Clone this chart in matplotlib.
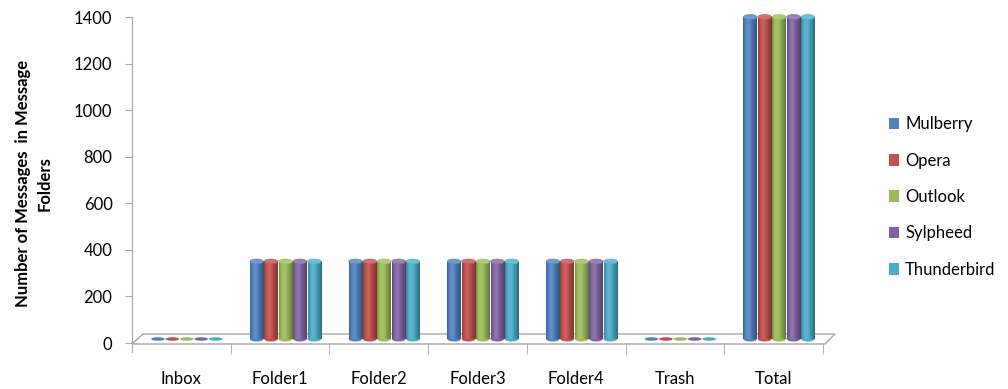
import numpy as np
import matplotlib
matplotlib.use("Agg")
import matplotlib.pyplot as plt
from matplotlib.patches import Ellipse, Polygon, Patch
from matplotlib.colors import to_rgb

plt.rcParams['font.family'] = ['Lato', 'DejaVu Sans']

categories = ["Inbox", "Folder1", "Folder2", "Folder3", "Folder4", "Trash", "Total"]
clients = ["Mulberry", "Opera", "Outlook", "Sylpheed", "Thunderbird"]
mulberry = [0, 350, 350, 350, 350, 0, 1400]
opera = [0, 350, 350, 350, 350, 0, 1400]
outlook = [0, 350, 350, 350, 350, 0, 1400]
sylpheed = [0, 350, 350, 350, 350, 0, 1400]
thunderbird = [0, 350, 350, 350, 350, 0, 1400]
series = [mulberry, opera, outlook, sylpheed, thunderbird]
colors = ["#4F81BD", "#C0504D", "#9BBB59", "#8064A2", "#4BACC6"]
y_ticks = [0, 200, 400, 600, 800, 1000, 1200, 1400]

W, H = 1008, 389
fig = plt.figure(figsize=(W / 100, H / 100), dpi=100)
ax_l, ax_r = 132, 823
ax_t, ax_b = 17, 343
ax = fig.add_axes([ax_l / W, (H - ax_b) / H, (ax_r - ax_l) / W, (ax_b - ax_t) / H])

xmin, xmax = -0.5, len(categories) - 0.5
ymin, ymax = 0, 1400
px_x = (xmax - xmin) / (ax_r - ax_l)   # data units per pixel, x
px_y = (ymax - ymin) / (ax_b - ax_t)   # data units per pixel, y


def shade(base, n=40):
    """Horizontal cylinder shading: darker edges, soft highlight left of centre."""
    c = np.array(to_rgb(base))
    t = np.linspace(0, 1, n)
    f = 0.82 + 0.32 * np.exp(-((t - 0.38) / 0.30) ** 2) - 0.08 * t
    edge = np.minimum(t, 1 - t)
    f = f - 0.16 * np.exp(-edge / 0.06)
    rgb = np.where(f[:, None] <= 1, c * f[:, None],
                   c + (1 - c) * (f[:, None] - 1))
    return np.clip(rgb, 0, 1)[None, :, :]


def lighten(base, k):
    c = np.array(to_rgb(base))
    return tuple(c + (1 - c) * k)


# 3D floor under the bars
dx, dy = 11 * px_x, 9 * px_y
floor = Polygon([(xmin, -1 * px_y), (xmin + dx, dy), (xmax + dx + 1 * px_x, dy),
                 (xmax + 2 * px_x, -1 * px_y)],
                closed=True, facecolor="white", edgecolor="#A6A6A6", lw=1.0,
                clip_on=False, zorder=1)
ax.add_patch(floor)

bar_w = 0.146
shift = 0.055
ell_h = 5 * px_y
base_y = 4 * px_y
n = len(series)
for i, (vals, col) in enumerate(zip(series, colors)):
    for j, v in enumerate(vals):
        xc = j + shift + (i - (n - 1) / 2) * bar_w
        x0, x1 = xc - bar_w / 2 + 0.4 * px_x, xc + bar_w / 2 - 0.4 * px_x
        w = x1 - x0
        if v > 0:
            ax.imshow(shade(col), extent=[x0, x1, base_y, v], aspect="auto",
                      interpolation="bilinear", zorder=3, clip_on=False)
            ax.add_patch(Ellipse((xc, base_y), w, ell_h, facecolor=col,
                                 edgecolor="none", zorder=2.9, clip_on=False))
            ax.add_patch(Ellipse((xc, v), w, ell_h, facecolor=lighten(col, 0.2),
                                 edgecolor=col, lw=0.4,
                                 zorder=4, clip_on=False))
        else:
            ax.add_patch(Ellipse((xc, base_y), w, 3.5 * px_y, facecolor=col,
                                 edgecolor="none", zorder=3, clip_on=False))

ax.set_xlim(xmin, xmax)
ax.set_ylim(ymin, ymax)

for s in ["top", "right", "bottom"]:
    ax.spines[s].set_visible(False)
ax.spines["left"].set_color("#A6A6A6")
ax.spines["left"].set_bounds(ymin - 9 * px_y, ymax)

ax.set_yticks(y_ticks)
ax.set_yticklabels([str(t) for t in y_ticks], fontsize=12)
ax.tick_params(axis="y", direction="out", length=5, color="#A6A6A6", pad=9)

ax.set_xticks(range(len(categories)))
ax.set_xticklabels(categories, fontsize=12)
ax.set_xticks(np.arange(xmin + 1, xmax + 0.01, 1.0), minor=True)
ax.tick_params(axis="x", which="major", length=0, pad=20)
ax.tick_params(axis="x", which="minor", direction="out", length=8,
               color="#A6A6A6", bottom=True)

ax.set_ylabel("Number of Messages  in Message\nFolders", fontsize=12,
              fontweight="bold", linespacing=1.45)
ax.yaxis.set_label_coords(-0.115, 0.49)

handles = [Patch(facecolor=c, edgecolor="none") for c in colors]
fig.legend(handles, clients, loc="center left", bbox_to_anchor=(874 / W, 1 - 197 / H),
           frameon=False, fontsize=12, handlelength=0.62, handleheight=0.68,
           handletextpad=0.35, labelspacing=1.22)

fig.savefig("out.png", dpi=100, facecolor="white")
